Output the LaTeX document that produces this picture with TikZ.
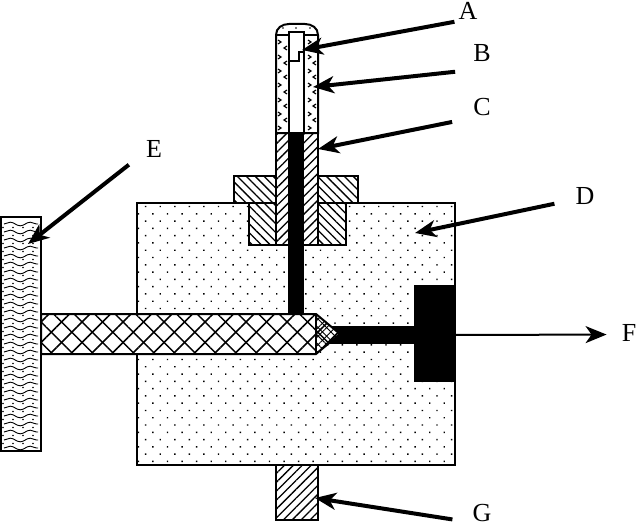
\documentclass[tikz,border=0pt]{standalone}
\usepackage{fontspec}
\setmainfont{Liberation Serif}
\usetikzlibrary{arrows.meta,patterns.meta,decorations.pathmorphing}

\tikzset{
	part/.style={draw,line width=2pt,preaction={fill=white}},
	dotted fill/.style={pattern={Dots[distance=10.3pt,angle=45,radius=1pt]}},
	hatch right/.style={pattern={Lines[distance=6.3pt,angle=45,line width=1.3pt]}},
	hatch left/.style={pattern={Lines[distance=6.3pt,angle=-45,line width=1.3pt]}},
	cross a/.style={pattern={Lines[distance=14.5pt,angle=45,line width=1.5pt]}},
	cross b/.style={pattern={Lines[distance=14.5pt,angle=-45,line width=1.5pt]}},
	letter/.style={inner sep=0pt,font=\fontsize{26}{26}\selectfont},
	pointer/.style={-{Stealth[length=21pt,width=17pt,inset=6pt]},line width=4pt},
}

\begin{document}
\begin{tikzpicture}[x=1pt,y=-1pt]

\useasboundingbox (0,0) rectangle (640,527);

% housing
\draw[part,dotted fill] (137,203) rectangle (455,465);
\draw[part,hatch right] (276,465) rectangle (318,520);

% handle plate
\begin{scope}
	\clip (1,217) rectangle (41,451);
	\foreach \y in {224,232,...,448}{
		\draw[line width=0.9pt,decorate,decoration={snake,segment length=20pt,amplitude=1.8pt}] (4,\y) -- (38,\y);
		\foreach \x in {3,13,...,40}{
			\fill (\x,\y+3.5) circle[radius=0.8];
		}
	}
\end{scope}
\draw[line width=2pt] (1,217) rectangle (41,451);

% nut
\draw[part,hatch left] (234,176) rectangle (358,203);
\draw[part,hatch left] (249,203) rectangle (346,245);

% tube
\draw[part,hatch right] (276,133) rectangle (318,245);
\draw[line width=2pt,fill=white] (276,35) .. controls (276,28) and (282,24) .. (289,24) -- (305,24)
	.. controls (312,24) and (318,28) .. (318,35) -- (318,133) -- (276,133) -- cycle;
\draw[line width=2pt] (276,35) -- (289,35);
\draw[line width=2pt] (304,35) -- (318,35);
\draw[line width=2pt] (289,133) -- (289,32) -- (304,32) -- (304,133);
\draw[line width=1.6pt] (290,61) -- (299,61) -- (299,52) -- (304,52);
\foreach \y in {42,57,71,85,100,114,128}{
	\draw[line width=1.2pt] (278,\y-2) -- (281,\y) -- (278,\y+2);
	\draw[line width=1.2pt] (308,\y-2) -- (311,\y) -- (308,\y+2);
}
\foreach \y in {48,63,77,92,106,120}{
	\draw[line width=1.2pt] (287,\y-2) -- (284,\y) -- (287,\y+2);
	\draw[line width=1.2pt] (316,\y-2) -- (313,\y) -- (316,\y+2);
}
\foreach \x in {283,296,310}{
	\fill (\x,28) circle[radius=0.9];
}

% oil column and piston
\fill (288,133) rectangle (304,316);
\fill (330,326) rectangle (416,344);
\node[fill=black,inner sep=0pt,minimum width=41pt,minimum height=97pt] (piston) at (434.5,333.5) {};

% screw
\draw[part,cross a] (41,314) -- (316,314) -- (340,334) -- (316,354) -- (41,354) -- cycle;
\fill[cross b] (41,314) -- (316,314) -- (340,334) -- (316,354) -- (41,354) -- cycle;
\fill[pattern={Lines[distance=6pt,angle=45,line width=0.9pt]}] (316,314) -- (340,334) -- (316,354) -- cycle;
\fill[pattern={Lines[distance=6pt,angle=-45,line width=0.9pt]}] (316,314) -- (340,334) -- (316,354) -- cycle;
\draw[line width=2pt] (316,314) -- (316,354);

% labels
\node[letter] (A) at (468,11) {A};
\node[letter] (B) at (482,53) {B};
\node[letter] (C) at (482,107) {C};
\node[letter] (D) at (585,196) {D};
\node[letter] (E) at (154,149) {E};
\node[letter] (F) at (629,333) {F};
\node[letter] (G) at (482,513.5) {G};

\coordinate (tipA) at (302,50);
\coordinate (tipB) at (313,87);
\coordinate (tipC) at (318,149);
\coordinate (tipD) at (415,233);
\coordinate (tipE) at (28,244);
\coordinate (tipG) at (315,498);

\draw[pointer] ([xshift=-4pt,yshift=-2pt]A.south west) -- (tipA);
\draw[pointer] ([xshift=-18pt,yshift=-10pt]B.south west) -- (tipB);
\draw[pointer] ([xshift=-21pt,yshift=-6pt]C.south west) -- (tipC);
\draw[pointer] ([xshift=-21pt,yshift=1pt]D.south west) -- (tipD);
\draw[pointer] ([xshift=-17pt,yshift=-7pt]E.south west) -- (tipE);
\draw[pointer] ([xshift=-20pt,yshift=3pt]G.south west) -- (tipG);
\draw[pointer,line width=2pt,shorten >=15pt] ([yshift=-1.5pt]piston.east) -- ([yshift=-1.5pt]F.west);

\end{tikzpicture}
\end{document}
